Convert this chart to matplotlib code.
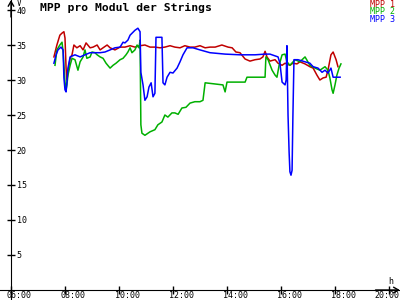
import matplotlib
matplotlib.use("Agg")
import matplotlib.pyplot as plt
import matplotlib.transforms as mtransforms

# values (time in hours, voltage in V)
t_mpp1 = [7.59, 7.70, 7.81, 7.89, 7.96, 8.00, 8.04, 8.07, 8.11, 8.19, 8.26, 8.33, 8.44, 8.56,
          8.67, 8.78, 8.93, 9.04, 9.19, 9.30, 9.41, 9.56, 9.67, 9.85, 10.04, 10.22, 10.41,
          10.59, 10.78, 10.96, 11.15, 11.33, 11.52, 11.70, 11.89, 12.07, 12.26, 12.44, 12.63,
          12.81, 13.00, 13.19, 13.37, 13.56, 13.81, 14.04, 14.19, 14.33, 14.48, 14.67, 14.85,
          15.04, 15.22, 15.33, 15.41, 15.48, 15.59, 15.78, 15.89, 16.04, 16.15, 16.33, 16.44,
          16.59, 16.70, 16.89, 17.07, 17.19, 17.33, 17.44, 17.56, 17.67, 17.74, 17.85, 17.93,
          18.04, 18.11]
v_mpp1 = [33.3, 35.0, 36.4, 36.7, 36.9, 36.0, 31.7, 30.0, 31.1, 33.1, 33.6, 35.0, 34.6, 34.9,
          34.3, 35.3, 34.6, 34.7, 35.0, 34.3, 34.6, 35.0, 34.6, 34.3, 34.7, 34.7, 34.9,
          34.7, 34.9, 35.0, 34.7, 34.7, 34.6, 34.7, 34.9, 34.7, 34.6, 34.9, 34.7,
          34.7, 34.9, 34.6, 34.7, 34.7, 35.0, 34.7, 34.6, 34.0, 33.9, 33.0, 32.7,
          32.9, 33.0, 33.3, 34.1, 33.3, 32.7, 32.9, 32.4, 32.1, 32.4, 32.1, 32.4,
          32.3, 32.6, 32.3, 31.9, 31.7, 30.7, 30.0, 30.3, 30.4, 31.4, 33.6, 34.0,
          32.9, 31.9]

t_mpp2 = [7.63, 7.70, 7.81, 7.89, 7.93, 7.96, 8.00, 8.04, 8.07, 8.11, 8.19, 8.26, 8.37, 8.48,
          8.56, 8.67, 8.74, 8.81, 8.93, 9.00, 9.11, 9.19, 9.30, 9.41, 9.52, 9.67, 9.78, 9.89,
          10.04, 10.15, 10.26, 10.33, 10.41, 10.48, 10.59, 10.67, 10.74, 10.78, 10.81, 10.85,
          10.96, 11.15, 11.33, 11.44, 11.59, 11.70, 11.81, 11.96, 12.07, 12.19, 12.33, 12.48,
          12.63, 12.81, 13.00, 13.11, 13.19, 13.85, 13.93, 14.00, 14.67, 14.74, 15.41, 15.44,
          15.52, 15.67, 15.78, 15.85, 15.93, 16.04, 16.15, 16.22, 16.33, 16.52, 16.70, 16.89,
          17.07, 17.26, 17.44, 17.63, 17.74, 17.81, 17.89, 17.93, 18.00, 18.07, 18.15, 18.22]
v_mpp2 = [32.1, 34.3, 35.0, 35.4, 34.0, 32.1, 29.7, 28.6, 29.3, 30.7, 32.1, 33.1, 32.9, 31.4,
          32.6, 33.3, 34.3, 33.1, 33.3, 34.0, 33.9, 33.6, 33.3, 33.1, 32.4, 31.7, 32.1, 32.4,
          32.9, 33.1, 33.6, 34.0, 34.6, 33.9, 34.3, 35.0, 34.6, 35.7, 23.6, 22.4,
          22.1, 22.6, 22.9, 23.6, 24.0, 25.0, 24.7, 25.3, 25.3, 25.1, 26.0, 26.1,
          26.7, 26.9, 26.9, 27.1, 29.6, 29.3, 28.3, 29.7, 29.7, 30.4, 30.4, 33.3,
          32.9, 31.4, 30.7, 30.4, 32.1, 33.6, 33.7, 32.6, 32.1, 32.9, 32.6, 33.3,
          32.1, 31.7, 31.4, 31.9, 31.4, 30.3, 28.6, 28.1, 29.3, 30.7, 31.7, 32.3]

t_mpp3 = [7.59, 7.67, 7.74, 7.85, 7.93, 7.96, 8.00, 8.04, 8.07, 8.11, 8.19, 8.37, 8.56, 8.74,
          8.93, 9.11, 9.30, 9.48, 9.67, 9.85, 10.04, 10.15, 10.22, 10.33, 10.41, 10.59, 10.70,
          10.78, 10.81, 10.89, 10.96, 11.04, 11.11, 11.19, 11.26, 11.33, 11.37, 11.59, 11.63,
          11.70, 11.78, 11.89, 12.00, 12.15, 12.26, 12.37, 12.52, 12.74, 13.00, 13.37, 13.93,
          14.48, 15.04, 15.41, 15.59, 15.89, 15.96, 16.04, 16.15, 16.19, 16.22, 16.26, 16.30,
          16.33, 16.37, 16.41, 16.44, 16.48, 16.63, 16.89, 17.07, 17.19, 17.37, 17.52, 17.63,
          17.74, 17.85, 17.93, 18.19]
v_mpp3 = [32.4, 33.6, 34.3, 34.7, 34.3, 30.3, 28.6, 28.3, 29.6, 31.7, 33.3, 33.6, 33.3, 33.6,
          33.9, 33.9, 33.9, 34.0, 34.3, 34.6, 34.7, 35.4, 35.3, 35.7, 36.4, 37.1, 37.4,
          36.9, 31.1, 29.3, 27.1, 27.6, 29.0, 29.6, 27.6, 28.1, 36.1, 36.1, 29.6,
          29.3, 30.4, 31.1, 31.0, 31.7, 32.6, 33.6, 34.6, 34.6, 34.3, 33.9, 33.7,
          33.6, 33.6, 33.7, 33.7, 33.3, 32.4, 29.7, 29.3, 30.0, 34.9, 25.0, 19.7,
          16.9, 16.4, 17.1, 24.7, 32.9, 32.9, 32.6, 32.4, 31.9, 31.7, 31.1, 31.4,
          31.0, 31.7, 30.4, 30.4]

series_names = ["MPP 1", "MPP 2", "MPP 3"]
series_colors = ["#c00000", "#00b000", "#0000ff"]

x_ticks = [6, 8, 10, 12, 14, 16, 18, 20]
x_labels = ["06:00", "08:00", "10:00", "12:00", "14:00", "16:00", "18:00", "20:00"]
y_ticks = [5, 10, 15, 20, 25, 30, 35, 40]

mono = "DejaVu Sans Mono"

fig = plt.figure(figsize=(4, 3), dpi=100)
ax = fig.add_axes([0, 0, 1, 1])
ax.set_xlim(5.593, 20.407)
ax.set_ylim(-1.43, 41.43)

for t, v, c in zip([t_mpp1, t_mpp2, t_mpp3], [v_mpp1, v_mpp2, v_mpp3], series_colors):
    ax.plot(t, v, color=c, lw=1.1)

# axes drawn as crossing lines with arrows
ax.spines["top"].set_visible(False)
ax.spines["left"].set_visible(False)
ax.spines["right"].set_position(("data", 6))
ax.spines["bottom"].set_position(("data", 0))
ax.yaxis.tick_right()
ax.tick_params(axis="both", direction="inout", length=6, width=1, labelsize=6)
ax.tick_params(axis="y", pad=1)
ax.set_yticks(y_ticks)
ax.set_yticklabels([str(y) for y in y_ticks], family=mono)
ax.set_xticks(x_ticks)
ax.set_xticklabels([])

# x labels sit on the bottom edge, starting just left of their tick
xlab_tr = mtransforms.blended_transform_factory(ax.transData, fig.transFigure) + \
    mtransforms.ScaledTranslation(-4 / 100, 0, fig.dpi_scale_trans)
for x, lbl in zip(x_ticks[:-1], x_labels[:-1]):
    ax.text(x, 0, lbl, transform=xlab_tr, ha="left", va="bottom",
            fontsize=6, family=mono, clip_on=False)
# last label would run off the right edge, keep it inside
fig.text(399 / 400, 0, x_labels[-1], ha="right", va="bottom", fontsize=6, family=mono)

arrow = dict(arrowstyle="->,head_length=0.35,head_width=0.2", lw=1, color="k",
             shrinkA=0, shrinkB=0)
ax.annotate("", xy=(6, 41.43), xytext=(6, 39), arrowprops=arrow, annotation_clip=False)
ax.annotate("", xy=(20.4, 0), xytext=(19.5, 0), arrowprops=arrow, annotation_clip=False)

fig.text(17 / 400, 1 - 3 / 300, "V", fontsize=5.5, family=mono, va="center")
fig.text(388 / 400, 1 - 281 / 300, "h", fontsize=6, family=mono, va="center")

fig.text(40 / 400, 1 - 8 / 300, "MPP pro Modul der Strings", fontsize=8.2,
         weight="bold", family=mono, va="center")
for i, (name, c) in enumerate(zip(series_names, series_colors)):
    fig.text(395 / 400, 1 - (4.5 + 7.5 * i) / 300, name, color=c, fontsize=6,
             family=mono, ha="right", va="center")

fig.savefig("out.png", dpi=100)
